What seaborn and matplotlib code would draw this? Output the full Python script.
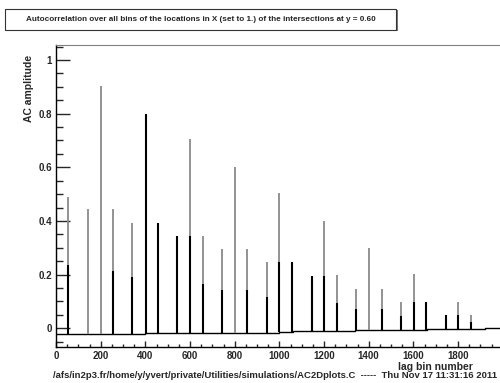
import numpy as np
import seaborn as sns
import matplotlib.pyplot as plt
from matplotlib.patches import Rectangle
from matplotlib.ticker import MultipleLocator, FormatStrFormatter

sns.set_style("ticks")
plt.rcParams['font.family'] = ['Liberation Sans', 'DejaVu Sans']
plt.rcParams['font.weight'] = 'bold'

# spike positions (lag bins) and heights
peak_lag = [0, 55, 142, 200, 257, 341, 402, 455, 543, 600, 657, 743, 800, 857,
            943, 1000, 1057, 1145, 1201, 1258, 1343, 1401, 1458, 1543, 1601,
            1658, 1745, 1802, 1858]
peak_gray = [0.49, 0.49, 0.443, 0.904, 0.443, 0.391, 0.80, 0.391, 0.345, 0.704,
             0.345, 0.294, 0.602, 0.297, 0.246, 0.503, 0.246, 0.195, 0.401,
             0.197, 0.146, 0.299, 0.146, 0.097, 0.201, 0.099, 0.048, 0.099, 0.048]
peak_black = [0.49, 0.236, None, None, 0.213, 0.19, 0.80, 0.391, 0.345, 0.345,
              0.165, 0.143, None, 0.143, 0.118, 0.246, 0.246, 0.195, 0.195,
              0.095, 0.071, None, 0.073, 0.046, 0.099, 0.099, 0.048, 0.048, 0.023]

# slowly rising floor of the autocorrelation between spikes
base_lag = [0, 400, 480, 1000, 1060, 1340, 1400, 1660, 1920, 2000]
base_val = [-0.021, -0.019, -0.016, -0.013, -0.010, -0.008, -0.005, -0.004, 0.001, 0.002]

title = "Autocorrelation over all bins of the locations in X (set to 1.) of the intersections at y = 0.60"
footer = "/afs/in2p3.fr/home/y/yvert/private/Utilities/simulations/AC2Dplots.C  -----  Thu Nov 17 11:31:16 2011"

fig = plt.figure(figsize=(5, 3.83), dpi=100)
ax = fig.add_axes([0.112, 0.0953, 0.888, 0.7872])

sns.lineplot(x=base_lag, y=base_val, drawstyle='steps-post', color='black',
             lw=1.0, ax=ax)

idx = np.searchsorted(base_lag, peak_lag, side='right') - 1
bottoms = [base_val[i] for i in idx]
ax.vlines(peak_lag, bottoms, peak_gray, color='#8a8a8a', lw=1.3)
bl = [(l, b, h) for l, b, h in zip(peak_lag, bottoms, peak_black) if h is not None]
ax.vlines([t[0] for t in bl], [t[1] for t in bl], [t[2] for t in bl],
          color='black', lw=1.5)

ax.set_xlim(0, 1988)
ax.set_ylim(-0.068, 1.056)

ax.xaxis.set_major_locator(MultipleLocator(200))
ax.xaxis.set_minor_locator(MultipleLocator(50))
ax.yaxis.set_major_locator(MultipleLocator(0.2))
ax.yaxis.set_minor_locator(MultipleLocator(0.05))
ax.yaxis.set_major_formatter(FormatStrFormatter('%g'))

ax.tick_params(axis='y', which='major', direction='in', length=10, width=1,
               labelsize=7, pad=3)
ax.tick_params(axis='y', which='minor', direction='in', length=5, width=1)
ax.tick_params(axis='x', which='major', direction='in', length=4.3, width=1,
               labelsize=7, pad=3)
ax.tick_params(axis='x', which='minor', direction='in', length=2.2, width=1)

ax.spines['right'].set_visible(False)
ax.spines['top'].set_color('#808080')
for s in ['left', 'bottom']:
    ax.spines[s].set_color('black')
    ax.spines[s].set_linewidth(1)

ax.set_ylabel('AC amplitude', fontsize=7.5, fontweight='bold', loc='top')
ax.yaxis.set_label_coords(-0.0495, 0.967)
ax.set_xlabel('lag bin number', fontsize=7.5, fontweight='bold', loc='right')
ax.xaxis.set_label_coords(0.9385, -0.05)

fig.patches.append(Rectangle((6 / 500, 1 - 31 / 383), 392 / 500, 21 / 383,
                             transform=fig.transFigure, facecolor='#777777',
                             edgecolor='none'))
fig.patches.append(Rectangle((5 / 500, 1 - 30 / 383), 391 / 500, 21 / 383,
                             transform=fig.transFigure, facecolor='white',
                             edgecolor='#333333', lw=0.8))
fig.text(201 / 500, 1 - 19.5 / 383, title, ha='center', va='center',
         fontsize=5.85, fontweight='bold')
fig.text(53 / 500, 1 - 376 / 383, footer, ha='left', va='center',
         fontsize=6.8, fontweight='bold')

fig.savefig('out.png', dpi=100)
